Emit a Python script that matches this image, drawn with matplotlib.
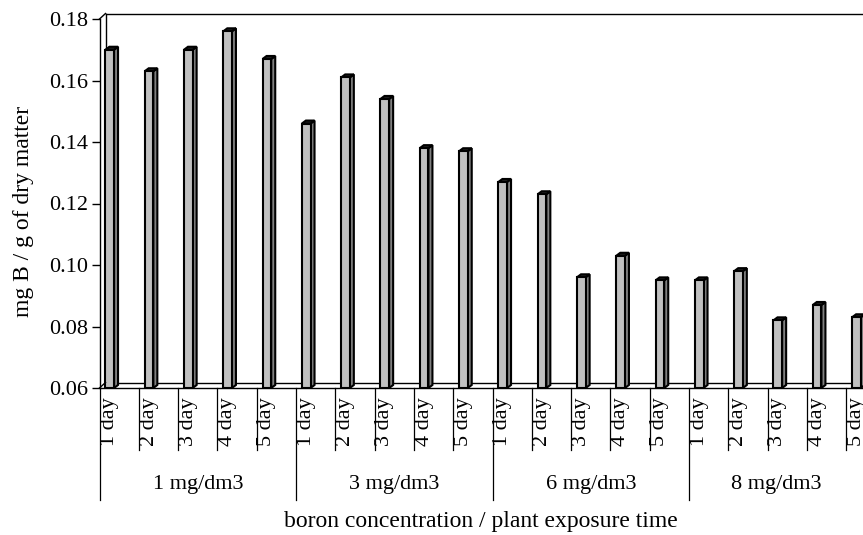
import matplotlib
matplotlib.use("Agg")
import matplotlib.pyplot as plt
from matplotlib.patches import Polygon
from matplotlib.lines import Line2D
from matplotlib.transforms import offset_copy, Bbox, TransformedBbox

plt.rcParams['font.family'] = ['Liberation Serif', 'DejaVu Serif']

# data
groups = ["1 mg/dm3", "3 mg/dm3", "6 mg/dm3", "8 mg/dm3"]
days = ["1 day", "2 day", "3 day", "4 day", "5 day"]
one_mg = [0.170, 0.163, 0.170, 0.176, 0.167]
three_mg = [0.146, 0.161, 0.154, 0.138, 0.137]
six_mg = [0.127, 0.123, 0.096, 0.103, 0.095]
eight_mg = [0.095, 0.098, 0.082, 0.087, 0.083]
y_ticks = [0.06, 0.08, 0.10, 0.12, 0.14, 0.16, 0.18]

values = one_mg + three_mg + six_mg + eight_mg
n = len(values)

W, H = 863, 535
fig = plt.figure(figsize=(W / 100, H / 100), dpi=100)
# plot area runs past the right edge of the picture, as in the original
ax_l, ax_b, ax_w, ax_h = 99.5, 388, 786, 369
ax = fig.add_axes([ax_l / W, (H - ax_b) / H, ax_w / W, ax_h / H])
ax.set_xlim(0, n)
ax.set_ylim(y_ticks[0], y_ticks[-1])

for s in ["top", "right"]:
    ax.spines[s].set_visible(False)
ax.spines["left"].set_linewidth(1)
ax.spines["bottom"].set_linewidth(1)

ax.set_yticks(y_ticks)
ax.set_yticklabels([f"{t:.2f}" for t in y_ticks])
ax.tick_params(axis="y", length=6, width=1, pad=2, labelsize=16)
ax.set_xticks([])

# back wall / floor (pseudo 3D)
dx, dy = 6, 5.5
back = offset_copy(ax.transAxes, fig=fig, x=dx, y=dy, units="dots")
for xs, ys in [([0, 1.2], [1, 1]), ([0, 0], [0, 1]), ([0, 1.2], [0, 0])]:
    ax.add_line(Line2D(xs, ys, transform=back, color="black", lw=1, clip_on=False))
fx0, fy0 = ax_l / W, (H - ax_b) / H
fy1 = (H - ax_b + ax_h) / H
for fy in [fy0, fy1]:
    fig.add_artist(Line2D([fx0, fx0 + dx / W], [fy, fy + dy / H],
                          transform=fig.transFigure, color="black", lw=1))

# bars: front face plus side and top
px_x = n / ax_w
px_y = (y_ticks[-1] - y_ticks[0]) / ax_h
bw = 0.22
depth_x, depth_y = 4 * px_x, 3 * px_y
base = y_ticks[0]
for i, v in enumerate(values):
    x0 = i + 0.15
    x1 = x0 + bw
    side = Polygon([(x1, base), (x1 + depth_x, base + depth_y),
                    (x1 + depth_x, v + depth_y), (x1, v)],
                   closed=True, facecolor="#808080", edgecolor="black", lw=1.5, zorder=3)
    top = Polygon([(x0, v), (x0 + depth_x, v + depth_y),
                   (x1 + depth_x, v + depth_y), (x1, v)],
                  closed=True, facecolor="#202020", edgecolor="black", lw=1.5, zorder=3)
    ax.add_patch(side)
    ax.add_patch(top)
ax.bar([i + 0.15 for i in range(n)], [v - base for v in values], bottom=base,
       width=bw, align="edge", color="#c0c0c0", edgecolor="black", lw=1.5, zorder=4)

# two level category axis
xt = ax.get_xaxis_transform()
day_len = 62 / ax_h
grp_len = 112 / ax_h
clip = TransformedBbox(Bbox([[0, -day_len], [n, 0]]), xt)
for i in range(n + 1):
    ln = grp_len if i % len(days) == 0 else day_len
    ax.add_line(Line2D([i, i], [0, -ln], transform=xt, color="black", lw=0.9, clip_on=False))
for i in range(n):
    t = ax.text(i + 0.02, -9 / ax_h, days[i % len(days)], transform=xt,
                rotation=90, ha="left", va="top", fontsize=16)
    t.set_clip_on(True)
    t.set_clip_box(clip)

vis_right = (W - ax_l) / ax_w * n
for g, name in enumerate(groups):
    g0 = g * len(days)
    g1 = min(g0 + len(days), vis_right)
    ax.text((g0 + g1) / 2, -97 / ax_h, name, transform=xt,
            ha="center", va="center", fontsize=16)

fig.text((ax_l + W) / 2 / W, 1 - 522 / H, "boron concentration / plant exposure time",
         ha="center", va="center", fontsize=17)
ax.set_ylabel("mg B / g of dry matter", fontsize=17)
ax.yaxis.set_label_coords((34 - ax_l) / ax_w, (ax_b - 211) / ax_h)

fig.savefig("out.png", dpi=100)
